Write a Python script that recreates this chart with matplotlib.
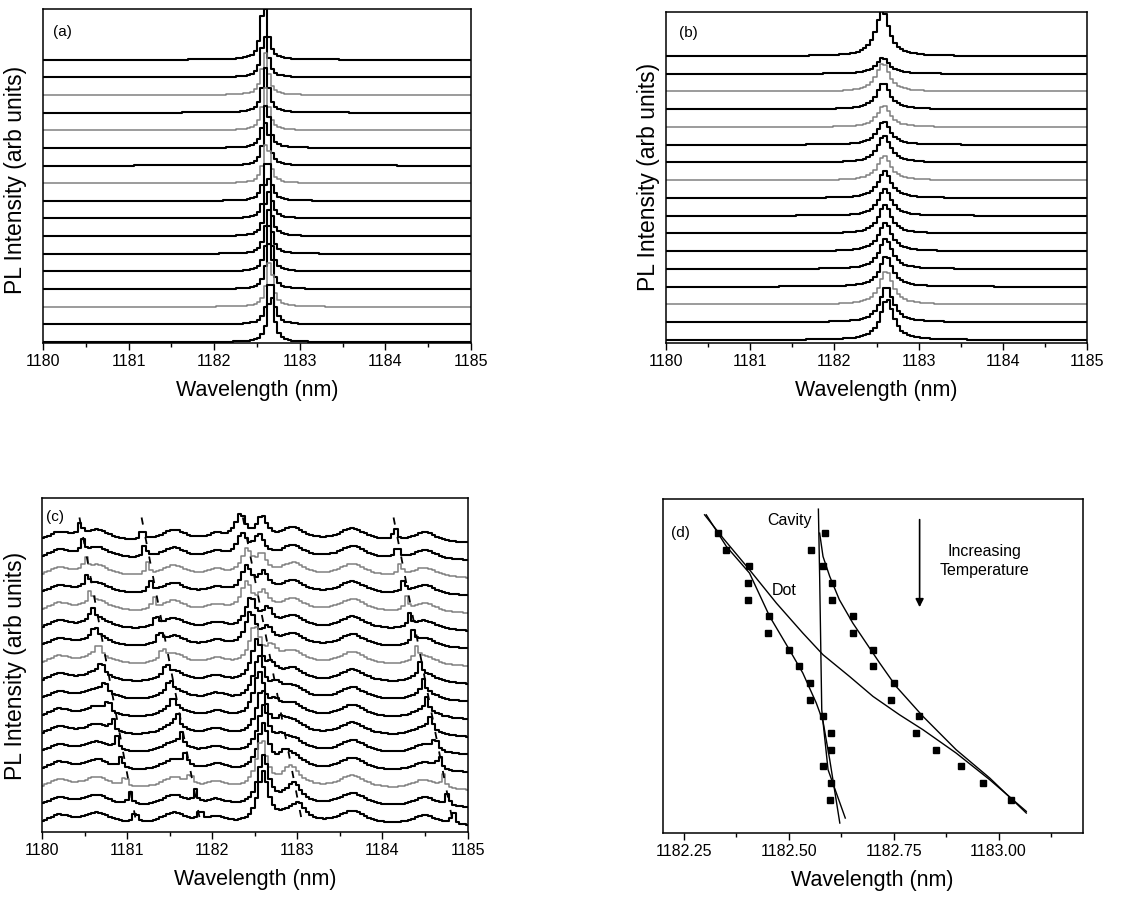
import numpy as np
import matplotlib.pyplot as plt

plt.rcParams['font.family'] = ['Liberation Sans', 'DejaVu Sans']

# ---------------- data (traces listed top -> bottom) ----------------
n_traces = 17
gray_traces = [2, 4, 7, 14]          # lighter traces, counted from the top

# (a) sharp cavity line
a_center = [1182.585, 1182.59, 1182.595, 1182.60, 1182.60, 1182.61, 1182.61, 1182.615,
            1182.62, 1182.625, 1182.63, 1182.635, 1182.64, 1182.645, 1182.65, 1182.66, 1182.665]
a_height = [3.2, 2.4, 2.4, 2.5, 2.4, 2.5, 2.5, 2.4, 2.5, 2.5, 2.6, 2.5, 2.6, 2.6, 2.6, 2.7, 2.8]
a_fwhm = 0.09

# (b) broader cavity line
b_center = [1182.57, 1182.575, 1182.575, 1182.58, 1182.585, 1182.585, 1182.59, 1182.59,
            1182.595, 1182.60, 1182.60, 1182.605, 1182.61, 1182.615, 1182.615, 1182.62, 1182.625]
b_height = [2.6, 0.9, 1.6, 1.5, 1.2, 1.3, 1.5, 1.4, 1.5, 1.5, 1.6, 1.6, 1.7, 1.7, 1.9, 2.0, 2.3]
b_fwhm = 0.19

# (d) peak positions, both branches, 17 temperature steps
d_step = list(range(17))
d_low = [1182.332, 1182.352, 1182.406, 1182.403, 1182.403, 1182.453, 1182.451, 1182.502,
         1182.526, 1182.550, 1182.550, 1182.582, 1182.602, 1182.602, 1182.582, 1182.602, 1182.598]
d_high = [1182.586, 1182.554, 1182.582, 1182.604, 1182.604, 1182.653, 1182.653, 1182.701,
          1182.701, 1182.750, 1182.743, 1182.810, 1182.804, 1182.852, 1182.911, 1182.963, 1183.030]

# (d) curves: (wavelength, step)
dot_x = [1182.300, 1182.344, 1182.407, 1182.471, 1182.534, 1182.582, 1182.645, 1182.701,
         1182.764, 1182.820, 1182.899, 1182.979, 1183.066]
dot_y = [-1.1, 0.3, 2.2, 4.2, 6.0, 7.3, 8.6, 9.8, 10.9, 11.8, 13.2, 14.8, 16.7]
cav_x = [1182.571, 1182.574, 1182.579, 1182.594, 1182.635]
cav_y = [-1.44, 2.6, 10.6, 14.2, 17.1]
low_x = [1182.304, 1182.352, 1182.407, 1182.455, 1182.502, 1182.534, 1182.566, 1182.582,
         1182.598, 1182.622]
low_y = [-1.1, 0.8, 2.4, 5.0, 7.0, 8.4, 10.2, 11.3, 13.6, 17.4]
high_x = [1182.574, 1182.582, 1182.598, 1182.621, 1182.653, 1182.685, 1182.717, 1182.756,
          1182.820, 1182.899, 1182.979, 1183.066]
high_y = [0.0, 1.4, 2.6, 4.0, 5.4, 6.6, 7.8, 9.2, 11.0, 13.0, 14.7, 16.8]

# (c) two main peaks follow the (d) branches
c_low_height = [1.4, 1.3, 1.4, 1.5, 1.6, 1.7, 1.9, 2.1, 2.3, 2.4, 2.5, 2.5, 2.6, 2.6, 2.7, 2.8, 2.9]
c_high_height = [1.3, 1.2, 1.1, 1.1, 1.0, 1.0, 0.9, 0.8, 0.7, 0.6, 0.6, 0.5, 0.5, 0.5, 0.5, 0.5, 0.5]
c_fwhm = 0.15
# small sharp lines of other dots
c_line1 = [1180.45, 1180.48, 1180.51, 1180.53, 1180.57, 1180.59, 1180.62, 1180.66, 1180.70,
           1180.74, 1180.78, 1180.83, 1180.88, 1180.93, 1180.98, 1181.04, 1181.10]
c_line2 = [1181.18, 1181.21, 1181.24, 1181.27, 1181.31, 1181.34, 1181.38, 1181.42, 1181.46,
           1181.50, 1181.54, 1181.59, 1181.64, 1181.69, 1181.74, 1181.80, 1181.86]
c_line4 = [1184.15, 1184.18, 1184.21, 1184.25, 1184.28, 1184.32, 1184.36, 1184.40, 1184.44,
           1184.48, 1184.52, 1184.57, 1184.62, 1184.67, 1184.72, 1184.77, 1184.83]
# broad background humps
c_hump_center = [1180.2, 1180.65, 1181.55, 1182.05, 1182.95, 1183.65, 1184.5]
c_hump_height = [0.55, 0.7, 0.7, 0.4, 0.8, 0.8, 0.6]
c_hump_width = [0.35, 0.4, 0.35, 0.3, 0.35, 0.4, 0.35]
# dashed guides in (c): wavelength at top and bottom
c_guide_top = [1180.44, 1181.17, 1182.36, 1184.13]
c_guide_bottom = [1181.12, 1181.875, 1183.07, 1184.84]

wl = np.arange(1180.0, 1185.0001, 0.04)


def lorentz(x, x0, h, w):
    return h / (1 + ((x - x0) / (w / 2)) ** 2)


def style_axis(ax, xlim, major, minor):
    ax.set_xlim(*xlim)
    ax.set_xticks(major)
    ax.set_xticks(minor, minor=True)
    ax.set_yticks([])
    ax.tick_params(axis='x', which='major', direction='out', length=5, width=1,
                   labelsize=11.5, pad=3)
    ax.tick_params(axis='x', which='minor', direction='out', length=3, width=1)
    for s in ax.spines.values():
        s.set_linewidth(1.1)


def trace_color(i):
    if i in gray_traces:
        return '0.5', 1.1
    return 'black', 1.5


fig = plt.figure(figsize=(11.23, 9), dpi=100)

ax_a = fig.add_axes([0.0383, 0.619, 0.381, 0.371])
ax_b = fig.add_axes([0.593, 0.619, 0.375, 0.368])
ax_c = fig.add_axes([0.0374, 0.0756, 0.379, 0.371])
ax_d = fig.add_axes([0.590, 0.0744, 0.374, 0.371])

major = [1180, 1181, 1182, 1183, 1184, 1185]
minor = [1180.5, 1181.5, 1182.5, 1183.5, 1184.5]
xlab_size = 15.5
ylab_size = 16.5

# (a)
for i in range(n_traces):
    off = n_traces - 1 - i
    y = off + lorentz(wl, a_center[i], a_height[i], a_fwhm)
    c, lw = trace_color(i)
    ax_a.plot(wl, y, color=c, lw=lw, drawstyle='steps-mid')
ax_a.set_ylim(-0.05, 18.87)
style_axis(ax_a, (1180, 1185), major, minor)
ax_a.text(0.023, 0.93, '(a)', transform=ax_a.transAxes, fontsize=11, va='center')
ax_a.set_xlabel('Wavelength (nm)', fontsize=xlab_size, labelpad=8)
fig.text(0.014, 0.80, 'PL Intensity (arb units)', rotation=90, fontsize=ylab_size,
         ha='center', va='center')

# (b)
for i in range(n_traces):
    off = n_traces - 1 - i
    y = off + lorentz(wl, b_center[i], b_height[i], b_fwhm)
    c, lw = trace_color(i)
    ax_b.plot(wl, y, color=c, lw=lw, drawstyle='steps-mid')
ax_b.set_ylim(-0.17, 18.5)
style_axis(ax_b, (1180, 1185), major, minor)
ax_b.text(0.03, 0.937, '(b)', transform=ax_b.transAxes, fontsize=11, va='center')
ax_b.set_xlabel('Wavelength (nm)', fontsize=xlab_size, labelpad=8)
ax_b.set_ylabel('PL Intensity (arb units)', fontsize=ylab_size, labelpad=4)

# (c)
for i in range(n_traces):
    off = n_traces - 1 - i
    y = off + lorentz(wl, d_low[i], c_low_height[i], c_fwhm)
    y += lorentz(wl, d_high[i], c_high_height[i], c_fwhm)
    for pos in (c_line1[i], c_line2[i], c_line4[i]):
        y += lorentz(wl, pos, 0.7, 0.05)
    for hc, hh, hw in zip(c_hump_center, c_hump_height, c_hump_width):
        y += lorentz(wl, hc, hh, hw)
    c, lw = trace_color(i)
    ax_c.plot(wl, y, color=c, lw=lw, drawstyle='steps-mid')
for x0, x1 in zip(c_guide_top, c_guide_bottom):
    ax_c.plot([x0, x1], [17.5, -0.1], color='black', lw=1.3, ls=(0, (4, 7)))
ax_c.set_ylim(-0.3, 18.6)
style_axis(ax_c, (1180, 1185), major, minor)
ax_c.text(0.01, 0.944, '(c)', transform=ax_c.transAxes, fontsize=11, va='center')
ax_c.set_xlabel('Wavelength (nm)', fontsize=xlab_size, labelpad=8)
fig.text(0.014, 0.26, 'PL Intensity (arb units)', rotation=90, fontsize=ylab_size,
         ha='center', va='center')

# (d)
ax_d.plot(dot_x, dot_y, color='black', lw=1.0)
ax_d.plot(cav_x, cav_y, color='black', lw=1.0)
ax_d.plot(low_x, low_y, color='black', lw=1.0)
ax_d.plot(high_x, high_y, color='black', lw=1.0)
ax_d.plot(d_low, d_step, 's', color='black', ms=5)
ax_d.plot(d_high, d_step, 's', color='black', ms=5)
ax_d.set_ylim(18.0, -2.04)
style_axis(ax_d, (1182.2, 1183.2), [1182.25, 1182.5, 1182.75, 1183.0],
           [1182.375, 1182.625, 1182.875, 1183.125])
ax_d.set_xticklabels(['1182.25', '1182.50', '1182.75', '1183.00'])
ax_d.text(0.021, 0.90, '(d)', transform=ax_d.transAxes, fontsize=11, va='center')
ax_d.text(0.302, 0.937, 'Cavity', transform=ax_d.transAxes, fontsize=11.5,
          ha='center', va='center')
ax_d.text(0.29, 0.727, 'Dot', transform=ax_d.transAxes, fontsize=11.5,
          ha='center', va='center')
ax_d.text(0.767, 0.815, 'Increasing\nTemperature', transform=ax_d.transAxes,
          fontsize=11.5, ha='center', va='center', linespacing=1.4)
ax_d.annotate('', xy=(0.612, 0.668), xytext=(0.612, 0.947), xycoords='axes fraction',
              arrowprops=dict(arrowstyle='-|>', color='black', lw=1.2,
                              mutation_scale=12))
ax_d.set_xlabel('Wavelength (nm)', fontsize=xlab_size, labelpad=8)

fig.savefig('out.png', dpi=100)
